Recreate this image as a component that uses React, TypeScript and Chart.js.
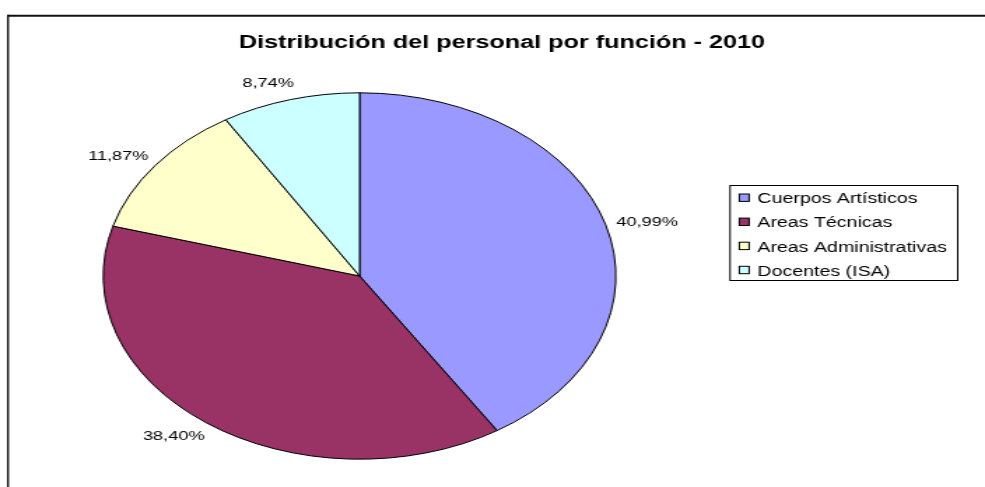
import React, { useEffect, useRef } from "react";
import { Chart, registerables } from "chart.js";

Chart.register(...registerables);

// ---- data ----
const title = "Distribución del personal por función - 2010";
const categories = ["Cuerpos Artísticos", "Areas Técnicas", "Areas Administrativas", "Docentes (ISA)"];
const values = [40.99, 38.4, 11.87, 8.74];
const colors = ["#9999FF", "#993366", "#FFFFCC", "#CCFFFF"];

const formatPct = (v: number) => v.toFixed(2).replace(".", ",") + "%";

// The reference image is horizontally stretched: the chart is drawn on a
// narrower bitmap and displayed at full width.
const CANVAS_W = 704;
const CANVAS_H = 487;
const DISPLAY_W = 985;

const FONT = "'Liberation Sans', Arial, Helvetica, sans-serif";

const decor = {
  id: "decor",
  beforeDraw(chart: any) {
    const ctx: CanvasRenderingContext2D = chart.ctx;
    ctx.save();
    ctx.fillStyle = "#ffffff";
    ctx.fillRect(0, 0, chart.width, chart.height);
    // frame
    ctx.strokeStyle = "#111";
    ctx.lineWidth = 2;
    ctx.beginPath();
    ctx.moveTo(5, 15.7);
    ctx.lineTo(chart.width + 5, 15.7);
    ctx.stroke();
    ctx.lineWidth = 1.4;
    ctx.beginPath();
    ctx.moveTo(5.7, 14.7);
    ctx.lineTo(5.7, chart.height + 5);
    ctx.stroke();
    // title
    ctx.fillStyle = "#000";
    ctx.font = `bold 18px ${FONT}`;
    ctx.textAlign = "center";
    ctx.textBaseline = "alphabetic";
    ctx.fillText(title, 358.8, 48.3);
    ctx.restore();
  },
  afterDatasetsDraw(chart: any) {
    const ctx: CanvasRenderingContext2D = chart.ctx;
    const meta = chart.getDatasetMeta(0);
    ctx.save();
    // value labels outside the slices
    ctx.fillStyle = "#000";
    ctx.font = `13px ${FONT}`;
    ctx.textAlign = "center";
    ctx.textBaseline = "middle";
    meta.data.forEach((arc: any, i: number) => {
      const { x, y, startAngle, endAngle, outerRadius } = arc.getProps(
        ["x", "y", "startAngle", "endAngle", "outerRadius"],
        true
      );
      const mid = (startAngle + endAngle) / 2;
      const txt = formatPct(values[i]);
      const w = ctx.measureText(txt).width;
      const c = Math.cos(mid);
      const s = Math.sin(mid);
      const lx = x + (outerRadius + 17) * c + 0.3 * w * Math.sign(c);
      const ly = y + (outerRadius + 20) * s - 3 * Math.sign(s);
      ctx.fillText(txt, lx, ly);
    });

    // legend
    const bx = 521.8, by = 185, bw = 162.7, bh = 95;
    ctx.strokeStyle = "#000";
    ctx.lineWidth = 1;
    ctx.strokeRect(bx, by + 0.5, bw, bh);
    ctx.font = `14px ${FONT}`;
    ctx.textAlign = "left";
    ctx.textBaseline = "alphabetic";
    categories.forEach((c, i) => {
      const base = 203.3 + i * 24.1;
      const sy = base - 9.3;
      ctx.fillStyle = colors[i];
      ctx.fillRect(528.4, sy, 7, 7.4);
      ctx.strokeStyle = "#000";
      ctx.lineWidth = 1;
      ctx.strokeRect(528.4, sy, 7, 7.4);
      ctx.fillStyle = "#000";
      ctx.fillText(c, 541.3, base);
    });
    ctx.restore();
  },
};

export default function App() {
  const ref = useRef<HTMLCanvasElement>(null);

  useEffect(() => {
    if (!ref.current) return;
    const chart = new Chart(ref.current, {
      type: "pie",
      data: {
        labels: categories,
        datasets: [
          {
            data: values,
            backgroundColor: colors,
            borderColor: "#000",
            borderWidth: 1,
            radius: 183.2,
          } as any,
        ],
      },
      options: {
        responsive: false,
        animation: false,
        events: [],
        layout: { padding: { top: 92.7, bottom: 27.7, left: 67, right: 257 } },
        plugins: {
          legend: { display: false },
          title: { display: false },
          tooltip: { enabled: false },
        },
      },
      plugins: [decor],
    });
    return () => chart.destroy();
  }, []);

  return (
    <div
      style={{
        position: "absolute",
        left: 0,
        top: 0,
        width: DISPLAY_W,
        height: CANVAS_H,
        overflow: "hidden",
        background: "#fff",
      }}
    >
      <canvas
        ref={ref}
        width={CANVAS_W}
        height={CANVAS_H}
        style={{ width: `${DISPLAY_W}px`, height: `${CANVAS_H}px`, display: "block" }}
      />
    </div>
  );
}
